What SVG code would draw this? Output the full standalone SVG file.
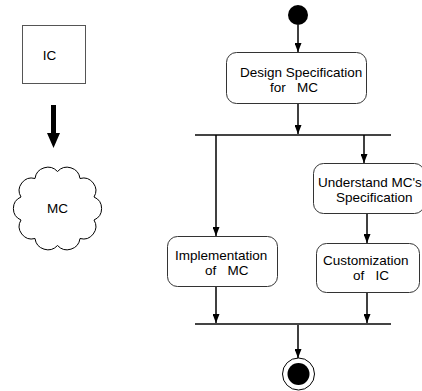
<svg xmlns="http://www.w3.org/2000/svg" width="422" height="391" viewBox="0 0 422 391">
<style>
text{font-family:"Liberation Sans",Arial,sans-serif;font-size:13.5px;fill:#000}
.box{fill:#fff;stroke:#333;stroke-width:1}
.con{fill:none;stroke:#000;stroke-width:1.5;marker-end:url(#ah)}
.bar{stroke:#444;stroke-width:2}
</style>
<defs>
<marker id="ah" markerUnits="userSpaceOnUse" markerWidth="9" markerHeight="7" viewBox="0 0 9 7" refX="9" refY="3.5" orient="auto">
<path d="M0,0 L9,3.5 L0,7 z" fill="#000"/>
</marker>
</defs>
<rect x="0" y="0" width="422" height="391" fill="#fff"/>
<g id="ic">
<rect x="22.5" y="25.5" width="63" height="58" fill="#fff" stroke="#555" stroke-width="1"/>
<text x="49.5" y="60" text-anchor="middle">IC</text>
</g>
<g id="ic-to-mc">
<polygon points="51,105 56,105 56,133 60,133 53.5,148 47,133 51,133" fill="#000"/>
</g>
<g id="mc">
<path d="M94,197 A12.5,12.5 0 0 1 94,220 A12.5,12.5 0 0 1 80,238.5 A13,13 0 0 1 57.5,245.5 A13,13 0 0 1 35,238.5 A12.5,12.5 0 0 1 21,220 A12.5,12.5 0 0 1 21,197 A12.5,12.5 0 0 1 35,178.5 A13,13 0 0 1 57.5,171.5 A13,13 0 0 1 80,178.5 A12.5,12.5 0 0 1 94,197 Z" fill="#fff" stroke="#000" stroke-width="1"/>
<text x="57.5" y="212.5" text-anchor="middle">MC</text>
</g>
<g id="start">
<circle cx="298" cy="15" r="10" fill="#000"/>
</g>
<g id="design">
<rect class="box" x="226.5" y="52.5" width="140" height="51" rx="10"/>
<text x="240" y="77">Design Specification</text>
<text x="270" y="92" xml:space="preserve">for   MC</text>
</g>
<g id="fork">
<line class="bar" x1="195" y1="135" x2="391" y2="135"/>
</g>
<g id="understand">
<rect class="box" x="313.5" y="163.5" width="111" height="50" rx="10"/>
<text x="318" y="187">Understand MC's</text>
<text x="336" y="202">Specification</text>
</g>
<g id="implementation">
<rect class="box" x="167.5" y="236.5" width="110" height="50" rx="10"/>
<text x="175" y="260">Implementation</text>
<text x="205" y="275" xml:space="preserve">of   MC</text>
</g>
<g id="customization">
<rect class="box" x="316.5" y="243.5" width="103" height="49" rx="10"/>
<text x="323" y="265">Customization</text>
<text x="353" y="280" xml:space="preserve">of   IC</text>
</g>
<g id="join">
<line class="bar" x1="195" y1="324" x2="391" y2="324"/>
</g>
<g id="end">
<circle cx="298.5" cy="374" r="16" fill="#fff" stroke="#000" stroke-width="1"/>
<circle cx="298.5" cy="374" r="11" fill="#000"/>
</g>
<g id="connectors">
<line class="con" x1="298" y1="25" x2="298" y2="52"/>
<line class="con" x1="298" y1="104" x2="298" y2="134"/>
<line class="con" x1="216" y1="135" x2="216" y2="236"/>
<line class="con" x1="364" y1="135" x2="364" y2="163"/>
<line class="con" x1="367" y1="214" x2="367" y2="243"/>
<line class="con" x1="216" y1="287" x2="216" y2="323"/>
<line class="con" x1="367" y1="293" x2="367" y2="323"/>
<line class="con" x1="298" y1="325" x2="298" y2="358"/>
</g>
</svg>
